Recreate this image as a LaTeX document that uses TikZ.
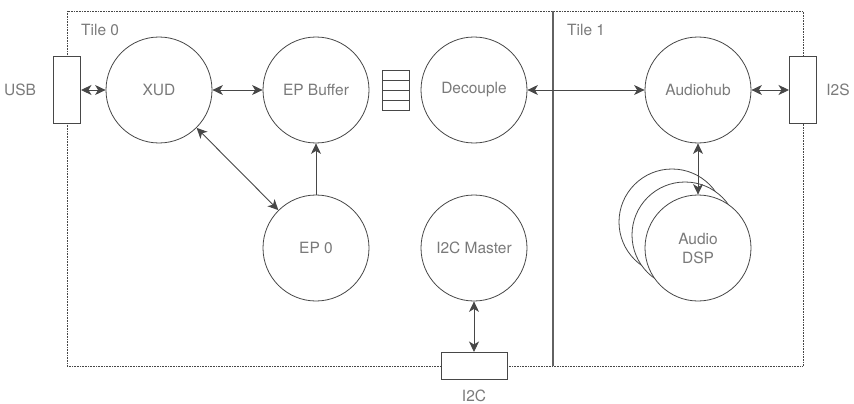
\documentclass[tikz,border=0pt]{standalone}
\usepackage{fontspec}
\setmainfont{TeX Gyre Heros}
\usepackage{tikz}
\usetikzlibrary{arrows.meta}
\definecolor{linegrey}{HTML}{474747}
\definecolor{textgrey}{HTML}{7A7A7A}
\tikzset{
  task/.style={circle,draw=linegrey,line width=0.8pt,fill=white,minimum size=106pt,inner sep=0pt,
    text=textgrey,font=\fontsize{15.5}{19}\selectfont,align=center},
  port/.style={rectangle,draw=linegrey,line width=1pt,fill=white,inner sep=0pt},
  fifo/.style={rectangle,draw=linegrey,line width=0.9pt,minimum width=27pt,minimum height=10pt,inner sep=0pt},
  label/.style={text=textgrey,font=\fontsize{15.5}{19}\selectfont,inner sep=0pt},
  link/.style={draw=linegrey,line width=0.9pt,{Stealth[length=10.5pt,width=10pt,inset=3pt]}-{Stealth[length=10.5pt,width=10pt,inset=3pt]}},
  onelink/.style={draw=linegrey,line width=0.9pt,-{Stealth[length=10.5pt,width=10pt,inset=3pt]}}
}
\begin{document}
\begin{tikzpicture}[x=1pt,y=-1pt]
\useasboundingbox (0,0) rectangle (854,404);
% tiles
\draw[linegrey,densely dotted,line width=0.6pt] (67,11) rectangle (803,366);
\draw[textgrey!80!black,line width=1.2pt] (553,11) coordinate (top) -- (553,366) coordinate (bot);
\node[label,anchor=west] (tile0) at (81,30) {Tile 0};
\node[label,anchor=west] (tile1) at (567,30) {Tile 1};
% ports
\node[port,minimum width=27pt,minimum height=66pt] (usb) at (67,90) {};
\node[port,minimum width=27pt,minimum height=66pt] (i2s) at (803,90) {};
\node[port,minimum width=66pt,minimum height=27pt] (i2c) at (474,366) {};
\node[label] (usbt) at (20,90) {USB};
\node[label] (i2st) at (838,90) {I2S};
\node[label] (i2ct) at (474,396) {I2C};
% tasks
\node[task] (xud) at (159,90) {XUD};
\node[task] (epbuf) at (316,90) {EP Buffer};
\node[task] (decouple) at (474,90) {Decouple};
\node[task] (hub) at (698,90) {Audiohub};
\node[task] (ep0) at (316,248) {EP 0};
\node[task] (i2cm) at (474,248) {I2C Master};
\node[task] (dsp2) at (672,222) {};
\node[task] (dsp1) at (685,235) {};
\node[task] (dsp) at (698,248) {Audio\\DSP};
% fifo
\foreach \i in {0,...,3}
  \node[fifo] (f\i) at (395.5,75+10*\i) {};
% links
\draw[link] (usb) -- (xud);
\draw[link] (xud) -- (epbuf);
\draw[link] (xud) -- (ep0);
\draw[onelink] (ep0) -- (epbuf);
\draw[link] (decouple) -- (hub);
\draw[link] (hub) -- (i2s);
\draw[link] (hub) -- (dsp.north);
\draw[link] (i2cm) -- (i2c);
\end{tikzpicture}
\end{document}
